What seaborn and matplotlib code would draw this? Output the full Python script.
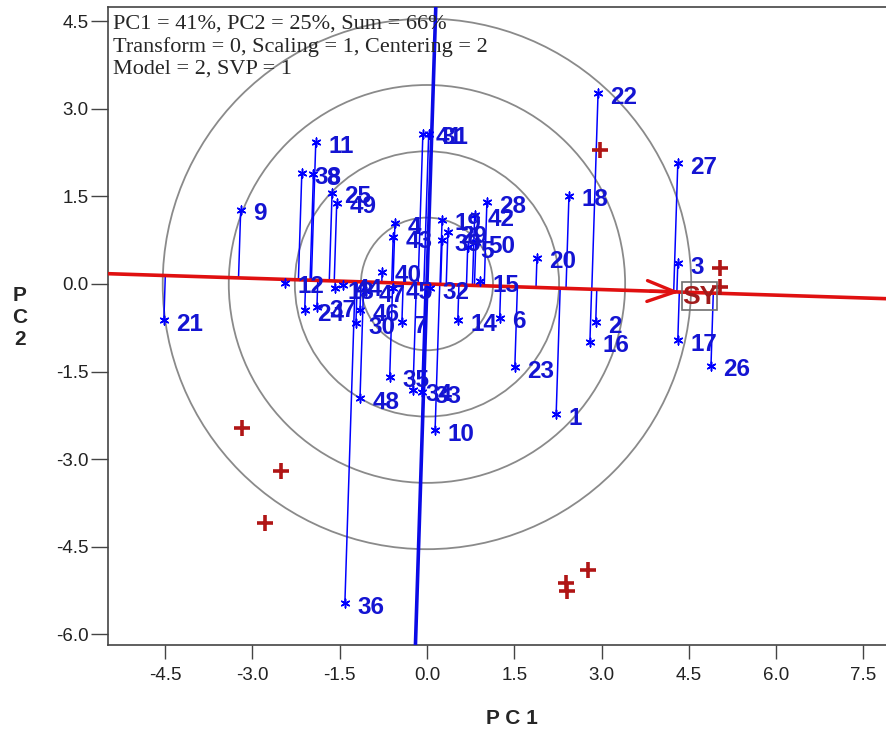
import numpy as np
import pandas as pd
import matplotlib
matplotlib.use('Agg')
import matplotlib.pyplot as plt
from matplotlib.patches import Circle, Rectangle
import seaborn as sns

# Genotype scores (PC1, PC2)
genotypes = list(range(1, 51))
gen_pc1 = [2.22, 2.90, 4.31, -0.55, 0.70, 1.25, -0.43, -1.95, -3.20, 0.14,
           -1.91, -2.44, -1.58, 0.53, 0.91, 2.80, 4.31, 2.44, 0.26, 1.89,
           -4.52, 2.94, 1.51, -2.10, -1.63, 4.88, 4.31, 1.03, 0.36, -1.22,
           0.03, 0.05, -0.09, -0.24, -0.64, -1.41, -1.89, -2.15, 0.26, -0.77,
           -0.07, 0.82, -0.58, -1.44, -0.58, -1.15, -1.05, -1.15, -1.55, 0.84]
gen_pc2 = [-2.23, -0.65, 0.36, 1.04, 0.63, -0.58, -0.65, 1.88, 1.27, -2.50,
           2.43, 0.02, -0.07, -0.62, 0.05, -0.99, -0.96, 1.51, 1.10, 0.45,
           -0.62, 3.27, -1.42, -0.45, 1.56, -1.40, 2.07, 1.40, 0.89, -0.67,
           2.57, -0.07, -1.85, -1.82, -1.59, -5.46, -0.39, 1.90, 0.75, 0.21,
           2.57, 1.18, 0.80, -0.02, -0.07, -0.45, -0.12, -1.95, 1.39, 0.72]

# Environment scores
env_pc1 = [2.97, 5.03, 5.03, -3.18, -2.51, -2.78, 2.77, 2.39, 2.40]
env_pc2 = [2.29, 0.27, -0.05, -2.47, -3.20, -4.09, -4.90, -5.12, -5.26]

# Average environment coordinate
aec_pc1 = 4.69
aec_pc2 = -0.20
aea_slope = -0.032

ring_radii = [1.135, 2.27, 3.405, 4.54]
header = ['PC1 = 41%, PC2 = 25%, Sum = 66%',
          'Transform = 0, Scaling = 1, Centering = 2',
          'Model = 2, SVP = 1']

gen_df = pd.DataFrame({'G': genotypes, 'PC1': gen_pc1, 'PC2': gen_pc2})
env_df = pd.DataFrame({'PC1': env_pc1, 'PC2': env_pc2})

sns.set_style('ticks')
plt.rcParams['font.family'] = ['Liberation Sans', 'DejaVu Sans']

fig = plt.figure(figsize=(8.86, 7.32), dpi=100)
ax = fig.add_axes([108 / 886, 87 / 732, 778 / 886, 638 / 732])

blue = '#0000ff'
label_blue = '#1414d2'
red = '#e01010'
dark_red = '#b01515'

# concentric circles
for r in ring_radii:
    ax.add_patch(Circle((0, 0), r, fill=False, ec='#8a8a8a', lw=1.3, zorder=1))

# AEA axis and its perpendicular
d = np.array([1.0, aea_slope]) / np.hypot(1.0, aea_slope)
n = np.array([-d[1], d[0]])
ax.plot([-12 * d[0], 12 * d[0]], [-12 * d[1], 12 * d[1]], color=red, lw=2.6, zorder=4)
ax.plot([-12 * n[0], 12 * n[0]], [-12 * n[1], 12 * n[1]], color='#0a0ae6', lw=2.6, zorder=3)

# projections of genotypes onto AEA
for _, row in gen_df.iterrows():
    p = np.array([row.PC1, row.PC2])
    foot = (p @ d) * d
    ax.plot([p[0], foot[0]], [p[1], foot[1]], color=blue, lw=1.1, zorder=2)

# arrow toward the AEC
tip = np.array([aec_pc1 - 0.30, 0])
tip[1] = aea_slope * tip[0]
ax.annotate('', xy=tip, xytext=tip - 0.6 * d,
            arrowprops=dict(arrowstyle='->,head_length=2.0,head_width=0.75',
                            color=red, lw=2.4), zorder=4)

sns.scatterplot(data=gen_df, x='PC1', y='PC2', marker=(6, 2, 0), s=40,
                color=blue, linewidth=1.1, ax=ax, zorder=5, legend=False)
sns.scatterplot(data=env_df, x='PC1', y='PC2', marker='+', s=120,
                color=dark_red, linewidth=2.6, ax=ax, zorder=5, legend=False)

for _, row in gen_df.iterrows():
    ax.annotate(str(int(row.G)), (row.PC1, row.PC2), xytext=(9, -3),
                textcoords='offset points', fontsize=17.5, fontweight='bold',
                color=label_blue, ha='left', va='center', zorder=6)

ax.add_patch(Rectangle((aec_pc1 - 0.30, aec_pc2 - 0.24), 0.60, 0.48,
                       fill=False, ec='#707070', lw=1.2, zorder=6))
ax.text(aec_pc1, aec_pc2 - 0.02, 'SY', fontsize=19, color='#a01c1c',
        fontweight='bold', ha='center', va='center', zorder=6)

ax.text(0.007, 0.988, '\n'.join(header), transform=ax.transAxes,
        family=['Liberation Serif', 'DejaVu Serif'], fontsize=16,
        va='top', ha='left', linespacing=1.2, zorder=7)

ax.set_xlim(-5.48, 7.887)
ax.set_ylim(-6.18, 4.74)
ax.set_xticks([-4.5, -3.0, -1.5, 0.0, 1.5, 3.0, 4.5, 6.0, 7.5])
ax.set_yticks([-6.0, -4.5, -3.0, -1.5, 0.0, 1.5, 3.0, 4.5])
ax.set_xticklabels([f'{v:.1f}' for v in ax.get_xticks()])
ax.set_yticklabels([f'{v:.1f}' for v in ax.get_yticks()])
ax.tick_params(axis='both', labelsize=13.5, width=1, color='#444444',
               labelcolor='#222222', direction='out')
ax.tick_params(axis='x', length=10, pad=6)
ax.tick_params(axis='y', length=12, pad=2)
ax.set_xlabel('')
ax.set_ylabel('')
for s in ['left', 'bottom', 'top']:
    ax.spines[s].set_color('#444444')
    ax.spines[s].set_linewidth(1.2)
ax.spines['right'].set_visible(False)

fig.text(512 / 886, 1 - 718 / 732, 'P C 1', fontsize=15, fontweight='bold',
         ha='center', va='center')
fig.text(20 / 886, 1 - 318 / 732, 'P\nC\n2', fontsize=15, fontweight='bold',
         ha='center', va='center', linespacing=1.2)

fig.savefig('out.png', dpi=100)
